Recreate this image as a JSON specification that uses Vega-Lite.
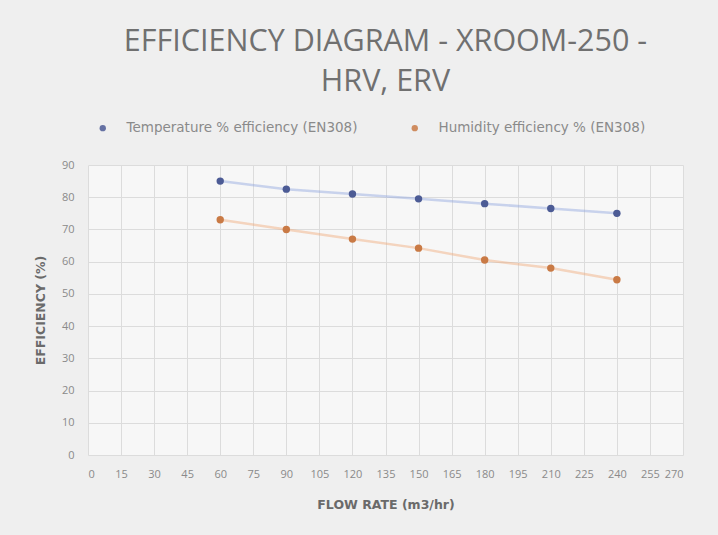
{
  "$schema": "https://vega.github.io/schema/vega-lite/v6.json",
  "width": 595,
  "height": 290,
  "autosize": {"type": "none"},
  "padding": {"left": 88, "top": 165, "right": 35, "bottom": 80},
  "background": "#efefef",
  "title": {
    "text": ["EFFICIENCY DIAGRAM - XROOM-250 -", "HRV, ERV"],
    "font": "Open Sans",
    "fontSize": 30.5,
    "fontWeight": "normal",
    "color": "#707070",
    "lineHeight": 40,
    "anchor": "middle",
    "offset": 24
  },
  "config": {
    "view": {"stroke": null, "fill": "#f7f7f7"},
    "axis": {
      "labelFont": "Open Sans",
      "titleFont": "DejaVu Sans",
      "labelColor": "#8a8a8a",
      "titleColor": "#6a6a6a",
      "labelFontSize": 11,
      "titleFontSize": 12.5,
      "titleFontWeight": "bold",
      "gridColor": "#dcdcdc",
      "domain": false,
      "ticks": false
    },
    "legend": {
      "labelFont": "DejaVu Sans",
      "labelFontSize": 13.5,
      "labelColor": "#8a8a8a",
      "labelLimit": 400
    }
  },
  "data": {
    "values": [
      {"flow": 60, "series": "Temperature % efficiency (EN308)", "eff": 85},
      {"flow": 90, "series": "Temperature % efficiency (EN308)", "eff": 82.5},
      {"flow": 120, "series": "Temperature % efficiency (EN308)", "eff": 81},
      {"flow": 150, "series": "Temperature % efficiency (EN308)", "eff": 79.5},
      {"flow": 180, "series": "Temperature % efficiency (EN308)", "eff": 78},
      {"flow": 210, "series": "Temperature % efficiency (EN308)", "eff": 76.5},
      {"flow": 240, "series": "Temperature % efficiency (EN308)", "eff": 75},
      {"flow": 60, "series": "Humidity efficiency % (EN308)", "eff": 73},
      {"flow": 90, "series": "Humidity efficiency % (EN308)", "eff": 70},
      {"flow": 120, "series": "Humidity efficiency % (EN308)", "eff": 67},
      {"flow": 150, "series": "Humidity efficiency % (EN308)", "eff": 64.2},
      {"flow": 180, "series": "Humidity efficiency % (EN308)", "eff": 60.5},
      {"flow": 210, "series": "Humidity efficiency % (EN308)", "eff": 58},
      {"flow": 240, "series": "Humidity efficiency % (EN308)", "eff": 54.4}
    ]
  },
  "encoding": {
    "x": {
      "field": "flow",
      "type": "quantitative",
      "scale": {"domain": [0, 270], "nice": false},
      "axis": {"values": [0,15,30,45,60,75,90,105,120,135,150,165,180,195,210,225,240,255,270], "title": "FLOW RATE (m3/hr)", "labelPadding": 13, "titlePadding": 19}
    },
    "y": {
      "field": "eff",
      "type": "quantitative",
      "scale": {"domain": [0, 90], "nice": false},
      "axis": {"values": [0,10,20,30,40,50,60,70,80,90], "title": "EFFICIENCY (%)", "labelPadding": 14, "titlePadding": 14}
    }
  },
  "layer": [
    {
      "mark": {"type": "line", "strokeWidth": 2.5, "opacity": 0.45},
      "encoding": {
        "color": {
          "field": "series",
          "type": "nominal",
          "sort": ["Temperature % efficiency (EN308)", "Humidity efficiency % (EN308)"],
          "scale": {"domain": ["Temperature % efficiency (EN308)", "Humidity efficiency % (EN308)"], "range": ["#8fa3dd", "#f0a878"]},
          "legend": null
        }
      }
    },
    {
      "mark": {"type": "point", "filled": true, "size": 55, "opacity": 1},
      "encoding": {
        "color": {
          "field": "series",
          "type": "nominal",
          "sort": ["Temperature % efficiency (EN308)", "Humidity efficiency % (EN308)"],
          "scale": {"domain": ["Temperature % efficiency (EN308)", "Humidity efficiency % (EN308)"], "range": ["#4c5b95", "#c97a45"]},
          "legend": {
            "title": null,
            "orient": "none",
            "direction": "horizontal",
            "legendX": 8,
            "legendY": -44,
            "columnPadding": 50,
            "labelOffset": 17,
            "symbolType": "circle",
            "symbolSize": 40,
            "symbolOpacity": 0.85
          }
        }
      }
    }
  ],
  "resolve": {"scale": {"color": "independent"}}
}
